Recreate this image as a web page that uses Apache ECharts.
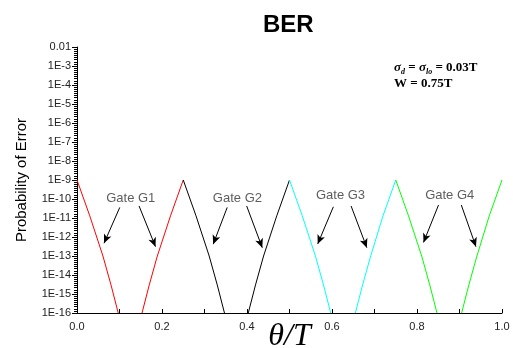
<!DOCTYPE html>
<html>
<head>
<meta charset="utf-8">
<script src="https://cdn.jsdelivr.net/npm/echarts@6/dist/echarts.min.js"></script>
<style>html,body{margin:0;padding:0;background:#fff}#c{width:513px;height:348px}</style>
</head>
<body>
<div id="c"></div>
<script>
// ---- data (theta/T vs probability of error) ----
const redX   = [0, 0.03, 0.061, 0.08, 0.097, null, 0.153, 0.17, 0.189, 0.22, 0.25];
const redP   = [1e-9, 1.3e-11, 1e-13, 3e-15, 1e-16, null, 1e-16, 3e-15, 1e-13, 1.3e-11, 1e-9];
const blackX = [0.25, 0.28, 0.311, 0.33, 0.347, null, 0.403, 0.42, 0.439, 0.47, 0.5];
const blackP = [1e-9, 1.3e-11, 1e-13, 3e-15, 1e-16, null, 1e-16, 3e-15, 1e-13, 1.3e-11, 1e-9];
const cyanX  = [0.5, 0.53, 0.561, 0.58, 0.597, null, 0.655, 0.672, 0.691, 0.72, 0.75];
const cyanP  = [1e-9, 1.3e-11, 1e-13, 3e-15, 1e-16, null, 1e-16, 3e-15, 1e-13, 1.3e-11, 1e-9];
const greenX = [0.75, 0.78, 0.811, 0.83, 0.847, null, 0.905, 0.922, 0.941, 0.97, 1.0];
const greenP = [1e-9, 1.3e-11, 1e-13, 3e-15, 1e-16, null, 1e-16, 3e-15, 1e-13, 1.3e-11, 1e-9];

// gate labels (data coords)
const gateNames = ['Gate G1', 'Gate G2', 'Gate G3', 'Gate G4'];
const gateLabelX = [0.1265, 0.3775, 0.620, 0.877];
const gateLabelP = [1.1e-10, 1.1e-10, 1.6e-10, 1.6e-10];
// arrows: start (x,p) -> end (x,p)
const arrowX0 = [0.1006, 0.146, 0.3534, 0.3992, 0.6032, 0.6449, 0.8506, 0.9043];
const arrowP0 = [3.6e-11, 4.3e-11, 3.6e-11, 4.3e-11, 3.9e-11, 4.3e-11, 4.8e-11, 4.8e-11];
const arrowX1 = [0.0636, 0.1847, 0.3205, 0.4359, 0.5664, 0.6819, 0.8153, 0.9387];
const arrowP1 = [4.7e-13, 3.1e-13, 4.2e-13, 2.75e-13, 4.3e-13, 2.75e-13, 5.2e-13, 3.1e-13];

// y tick labels per decade exponent
const yExps = [-2, -3, -4, -5, -6, -7, -8, -9, -10, -11, -12, -13, -14, -15, -16];
const yTickLabels = ['0.01', '1E-3', '1E-4', '1E-5', '1E-6', '1E-7', '1E-8', '1E-9', '1E-10', '1E-11', '1E-12', '1E-13', '1E-14', '1E-15', '1E-16'];

const lg = v => Math.log10(v);
function pairs(xs, ps) {
  return xs.map((x, i) => (x === null ? ['-', '-'] : [x, lg(ps[i])]));
}
function lineSeries(xs, ps, color) {
  return {
    type: 'line', data: pairs(xs, ps), showSymbol: false, symbol: 'none',
    connectNulls: false, clip: true,
    lineStyle: { color: color, width: 1 }, itemStyle: { color: color }
  };
}

const chart = echarts.init(document.getElementById('c'), null, { renderer: 'canvas' });
const arrowData = arrowX0.map((x, i) => [
  { coord: [x, lg(arrowP0[i])] },
  { coord: [arrowX1[i], lg(arrowP1[i])] }
]);

chart.setOption({
  animation: false,
  backgroundColor: '#fff',
  title: [
    { text: 'BER', left: 258, top: 8,
      textStyle: { fontFamily: 'Liberation Sans, Arial', fontWeight: 'bold', fontSize: 24, color: '#000' } },
    { text: '{s|σ}{sub|d}{b| = }{s|σ}{sub|lo}{b| = 0.03T}\n{b|W = 0.75T}', left: 389, top: 55,
      textStyle: {
        lineHeight: 16,
        rich: {
          s: { fontFamily: 'Liberation Serif', fontStyle: 'italic', fontSize: 13, color: '#000', lineHeight: 16 },
          sub: { fontFamily: 'Liberation Serif', fontStyle: 'italic', fontSize: 8, color: '#000', verticalAlign: 'bottom', padding: [4, 0, 0, 0], lineHeight: 16 },
          b: { fontFamily: 'Liberation Serif', fontWeight: 'bold', fontSize: 13, color: '#000', lineHeight: 16 }
        }
      } }
  ],
  grid: { left: 77, right: 11, top: 47, bottom: 35, containLabel: false, outerBoundsMode: 'none' },
  xAxis: {
    type: 'value', min: 0, max: 1, interval: 0.2,
    name: 'θ/T', nameLocation: 'middle', nameGap: 24, nameMoveOverlap: false,
    nameTextStyle: { fontFamily: 'Liberation Serif', fontStyle: 'italic', fontSize: 32, color: '#000', verticalAlign: 'middle' },
    axisLine: { onZero: false, lineStyle: { color: '#000', width: 1 } },
    axisTick: { inside: true, length: 4, lineStyle: { color: '#000' } },
    minorTick: { show: true, splitNumber: 2, length: 4, lineStyle: { color: '#000' } },
    axisLabel: { margin: 8, fontFamily: 'Liberation Sans, Arial', fontSize: 11, color: '#222',
      formatter: v => v.toFixed(1) },
    splitLine: { show: false }
  },
  yAxis: {
    type: 'value', min: -16, max: -2, interval: 1,
    name: 'Probability of Error', nameLocation: 'middle', nameGap: 48, nameRotate: 90, nameMoveOverlap: false,
    nameTextStyle: { fontFamily: 'Liberation Sans, Arial', fontSize: 15, color: '#000' },
    axisLine: { show: true, lineStyle: { color: '#000', width: 1 } },
    axisTick: { show: true, inside: false, length: 5, lineStyle: { color: '#000' } },
    minorTick: { show: true, splitNumber: 9, length: 3, lineStyle: { color: '#000' } },
    axisLabel: { margin: 6, fontFamily: 'Liberation Sans, Arial', fontSize: 11, color: '#222',
      formatter: v => { const i = yExps.indexOf(Math.round(v)); return i >= 0 ? yTickLabels[i] : ''; } },
    splitLine: { show: false }
  },
  series: [
    lineSeries(redX, redP, '#ff0000'),
    lineSeries(blackX, blackP, '#000000'),
    lineSeries(cyanX, cyanP, '#00ffff'),
    lineSeries(greenX, greenP, '#00ff00'),
    {
      type: 'scatter', symbolSize: 0,
      data: gateLabelX.map((x, i) => ({ value: [x, lg(gateLabelP[i])], name: gateNames[i] })),
      label: { show: true, position: 'inside', formatter: p => p.name,
        fontFamily: 'Liberation Sans, Arial', fontSize: 13, color: '#333' },
      markLine: {
        silent: true, symbol: ['none', 'arrow'], symbolSize: [6, 9],
        label: { show: false },
        lineStyle: { color: '#000', width: 1, type: 'solid' },
        data: arrowData
      },
      z: 5
    }
  ]
});
</script>
</body>
</html>
